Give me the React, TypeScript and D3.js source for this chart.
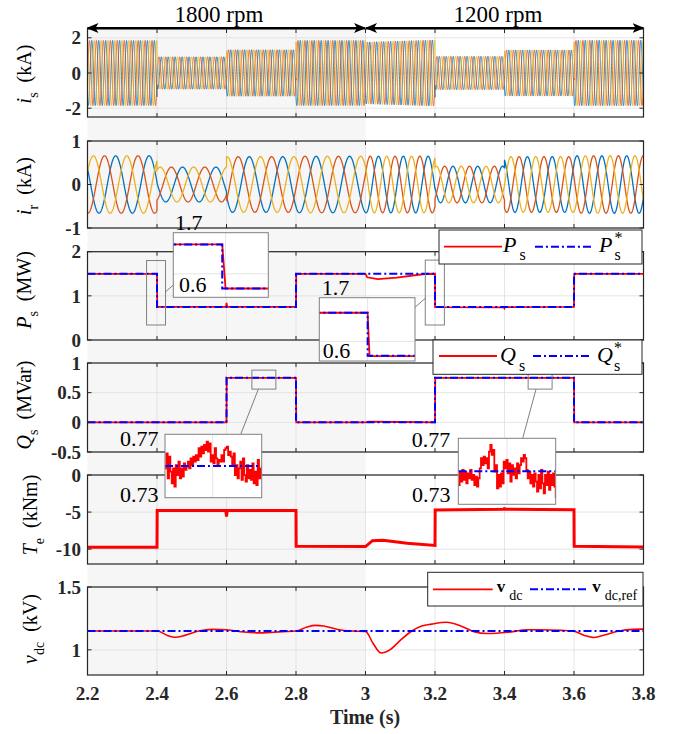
import React from "react";
import * as d3 from "d3";

const W = 681;
const H = 734;
const X0 = 87.5;
const X1 = 643.5;
const FONT = "'Liberation Serif', 'Times New Roman', serif";

const C_BLUE = "#0072BD";
const C_ORANGE = "#D95319";
const C_YELLOW = "#EDB120";
const C_RED = "#ff0000";
const C_REF = "#0000ff";
const DASHDOT = "8,3,2,3";

// ---------- data ----------
const timeTicks = [2.2, 2.4, 2.6, 2.8, 3, 3.2, 3.4, 3.6, 3.8];

// operating segments (shared by both current envelopes)
const segStart = [2.2, 2.4, 2.6, 2.8, 3.0, 3.2, 3.4, 3.6];
const segEnd = [2.4, 2.6, 2.8, 3.0, 3.2, 3.4, 3.6, 3.8];

// stator current amplitude (kA), start/end of each segment, and frequency (Hz)
const isAmpStart = [1.85, 0.92, 1.32, 1.85, 1.76, 0.95, 1.31, 1.86];
const isAmpEnd = [1.85, 0.92, 1.32, 1.85, 1.88, 0.95, 1.31, 1.86];
const isFreq = [50, 50, 50, 50, 50, 50, 50, 50];

// rotor current amplitude (kA) and slip frequency (Hz)
const irAmp = [0.66, 0.4, 0.64, 0.65, 0.65, 0.42, 0.64, 0.66];
const irFreq = [10.4, 10.4, 10.4, 10.4, 14, 14, 14, 14];

// stator active power (MW)
const psRefT = [2.2, 2.4, 2.8, 3.2, 3.6];
const psRefV = [1.5, 0.75, 1.5, 0.75, 1.5];
const psMeasT = [2.2, 2.4, 2.4007, 2.599, 2.6, 2.602, 2.8, 2.8007, 3.0, 3.005, 3.035, 3.09, 3.17, 3.2, 3.2004, 3.399, 3.4, 3.402, 3.6, 3.6007, 3.8];
const psMeasV = [1.5, 1.5, 0.75, 0.75, 0.84, 0.75, 0.75, 1.5, 1.5, 1.42, 1.38, 1.415, 1.495, 1.5, 0.745, 0.74, 0.72, 0.745, 0.75, 1.5, 1.5];

// stator reactive power (MVar)
const qsRefT = [2.2, 2.6, 2.8, 3.2, 3.6];
const qsRefV = [0, 0.75, 0, 0.75, 0];
const qsMeasT = [2.2, 2.6, 2.6007, 2.8, 2.8007, 3.0, 3.01, 3.1, 3.2, 3.2007, 3.6, 3.6007, 3.8];
const qsMeasV = [0, 0, 0.75, 0.75, 0, 0, 0.012, 0.006, 0, 0.75, 0.75, 0, 0];

// zoomed Qs around 0.75 MVar
const qsFineA = [0.7485, 0.758, 0.7422, 0.7559, 0.7464, 0.7391, 0.7485, 0.737, 0.7506, 0.7443, 0.7527, 0.7422, 0.7485, 0.7433, 0.7517, 0.7475, 0.7496, 0.7527, 0.7485, 0.7548, 0.7506, 0.7559, 0.7527, 0.7569, 0.7538, 0.7612, 0.7559, 0.7622, 0.758, 0.7633, 0.7601, 0.7654, 0.7591, 0.7643, 0.7527, 0.7569, 0.7517, 0.7612, 0.7548, 0.7506, 0.7538, 0.7527, 0.7569, 0.7527, 0.7601, 0.7612, 0.7622, 0.7569, 0.7591, 0.7559, 0.7506, 0.758, 0.7443, 0.7506, 0.7422, 0.7485, 0.7527, 0.7412, 0.7548, 0.7443, 0.7401, 0.7506, 0.7422, 0.7475, 0.7412, 0.7517, 0.7391, 0.7464, 0.738, 0.7538, 0.7422, 0.7485, 0.7422];
const qsFineB = [0.7417, 0.7498, 0.7437, 0.7508, 0.7448, 0.7498, 0.7427, 0.7488, 0.7458, 0.7508, 0.7448, 0.7478, 0.7417, 0.7468, 0.7407, 0.7458, 0.7518, 0.7579, 0.7538, 0.7589, 0.7548, 0.7579, 0.7518, 0.7619, 0.766, 0.7599, 0.7629, 0.7498, 0.7538, 0.7397, 0.7478, 0.7407, 0.7488, 0.7427, 0.7559, 0.7518, 0.7569, 0.7488, 0.7548, 0.7437, 0.7538, 0.7478, 0.7518, 0.7458, 0.7548, 0.7488, 0.7538, 0.7579, 0.7559, 0.7599, 0.7579, 0.7508, 0.7458, 0.7498, 0.7427, 0.7478, 0.7407, 0.7488, 0.7437, 0.7377, 0.7478, 0.7397, 0.7508, 0.7427, 0.7367, 0.7478, 0.7417, 0.7498, 0.7387, 0.7478, 0.7417, 0.7488, 0.7407, 0.7336];

// electromagnetic torque (kNm)
const teT = [2.2, 2.4, 2.4005, 2.598, 2.6, 2.602, 2.8, 2.8005, 3.0, 3.02, 3.05, 3.12, 3.2, 3.2005, 3.399, 3.4, 3.401, 3.6, 3.6005, 3.8];
const teV = [-9.75, -9.75, -4.8, -4.8, -5.6, -4.8, -4.8, -9.6, -9.65, -8.85, -8.8, -9.2, -9.5, -4.72, -4.62, -4.4, -4.62, -4.68, -9.6, -9.7];

// dc-link voltage (kV)
const vdcRef = 1.15;
const vdcT = [2.2, 2.4, 2.43, 2.452, 2.48, 2.52, 2.56, 2.6, 2.65, 2.7, 2.76, 2.8, 2.83, 2.855, 2.88, 2.92, 2.96, 3.0, 3.022, 3.045, 3.07, 3.1, 3.133, 3.162, 3.19, 3.234, 3.274, 3.312, 3.35, 3.41, 3.466, 3.504, 3.562, 3.6, 3.63, 3.658, 3.69, 3.73, 3.77, 3.8];
const vdcV = [1.15, 1.15, 1.115, 1.1, 1.115, 1.15, 1.163, 1.16, 1.142, 1.135, 1.145, 1.15, 1.18, 1.195, 1.19, 1.162, 1.15, 1.147, 1.05, 0.975, 1.0, 1.075, 1.15, 1.19, 1.205, 1.22, 1.19, 1.145, 1.13, 1.14, 1.16, 1.16, 1.155, 1.148, 1.115, 1.098, 1.12, 1.15, 1.163, 1.165];

// ---------- helpers ----------
type Pt = [number, number];

function threePhase(a0: number[], a1: number[], freq: number[], phase0: number, dt: number): Pt[][] {
  const out: Pt[][] = [[], [], []];
  let theta = phase0;
  for (let s = 0; s < segStart.length; s++) {
    const t0 = segStart[s], t1 = segEnd[s];
    const n = Math.round((t1 - t0) / dt);
    for (let i = 0; i <= n; i++) {
      const t = t0 + i * dt;
      const a = a0[s] + (a1[s] - a0[s]) * (i / n);
      const th = theta + 2 * Math.PI * freq[s] * (t - t0);
      for (let k = 0; k < 3; k++) out[k].push([t, a * Math.cos(th - (k * 2 * Math.PI) / 3)]);
    }
    theta += 2 * Math.PI * freq[s] * (t1 - t0);
  }
  return out;
}

const zip = (t: number[], v: number[]): Pt[] => t.map((d, i) => [d, v[i]]);
const steps = (t: number[], v: number[], tEnd: number): Pt[] => [...zip(t, v), [tEnd, v[v.length - 1]]];
const spread = (v: number[], d: number[]): Pt[] => v.map((y, i) => [d[0] + ((d[1] - d[0]) * i) / (v.length - 1), y]);

const phaseColors = [C_YELLOW, C_ORANGE, C_BLUE];

const panels = [
  { id: "is", top: 29, bottom: 117, domain: [-2.5, 2.5], ticks: [-2, 0, 2], lab: { v: "i", sub: "s", unit: "(kA)", x: 31, cy: 74 } },
  { id: "ir", top: 141, bottom: 228, domain: [-1, 1], ticks: [-1, 0, 1], lab: { v: "i", sub: "r", unit: "(kA)", x: 31, cy: 186 } },
  { id: "ps", top: 251.7, bottom: 340, domain: [0, 2], ticks: [0, 1, 2], lab: { v: "P", sub: "s", unit: "(MW)", x: 31, cy: 290 } },
  { id: "qs", top: 363, bottom: 452, domain: [-0.5, 1], ticks: [-0.5, 0, 0.5, 1], lab: { v: "Q", sub: "s", unit: "(MVar)", x: 31, cy: 405 } },
  { id: "te", top: 475, bottom: 564, domain: [-12, 0], ticks: [-10, -5, 0], lab: { v: "T", sub: "e", unit: "(kNm)", x: 37, cy: 515 } },
  { id: "vdc", top: 587, bottom: 675, domain: [0.8, 1.5], ticks: [1, 1.5], lab: { v: "v", sub: "dc", unit: "(kV)", x: 37, cy: 629 } },
];

export default function App() {
  const xs = d3.scaleLinear().domain([2.2, 3.8]).range([X0, X1]);
  const ys: Record<string, d3.ScaleLinear<number, number>> = {};
  panels.forEach((p) => (ys[p.id] = d3.scaleLinear().domain(p.domain).range([p.bottom, p.top])));
  const lineFor = (id: string, curve: d3.CurveFactory = d3.curveLinear) =>
    d3.line<Pt>().x((d) => xs(d[0])).y((d) => ys[id](d[1])).curve(curve);

  const isWaves = threePhase(isAmpStart, isAmpEnd, isFreq, 0.3, 0.0004);
  const irWaves = threePhase(irAmp, irAmp, irFreq, -1.11, 0.001);

  const xMid = xs(3.0);

  // inset definitions: pixel frame + data window
  const insets = [
    { id: "pa", x: 173.3, y: 232.7, w: 95, h: 64.6, dx: [2.3897, 2.4097], dy: [0.6, 1.7], gx: [2.4007], gy: [1.0], kind: "ps" },
    { id: "pb", x: 319.3, y: 297.7, w: 95.7, h: 63.3, dx: [3.1899, 3.2099], dy: [0.66, 1.76], gx: [3.2], gy: [1.0], kind: "ps" },
    { id: "qa", x: 165, y: 434.3, w: 96.7, h: 63.4, dx: [2.673, 2.742], dy: [0.73, 0.77], gx: [2.707], gy: [], kind: "qa" },
    { id: "qb", x: 458.3, y: 438.3, w: 97.4, h: 66, dx: [3.468, 3.537], dy: [0.73, 0.77], gx: [3.5025], gy: [], kind: "qb" },
  ];
  // zoom rectangles on the main axes, in data units
  const zoomBoxes = [
    { id: "ps", t: [2.37, 2.4245], v: [0.34, 1.8] },
    { id: "ps", t: [3.172, 3.227], v: [0.34, 1.81] },
    { id: "qs", t: [2.673, 2.742], v: [0.56, 0.88] },
    { id: "qs", t: [3.468, 3.537], v: [0.56, 0.88] },
  ];
  const connectors = [
    [165.7, 291.7, 173.3, 285],
    [415, 307.3, 425.3, 298.3],
    [258.3, 389.3, 240.7, 434.3],
    [536, 389.3, 522.7, 438.3],
  ];

  const gridColor = "#dedede";
  const axisColor = "#262626";

  const tickFont = { fontFamily: FONT, fontWeight: 700, fontSize: 19, fill: "#262626" } as const;

  return (
    <svg width={W} height={H} style={{ position: "absolute", left: 0, top: 0, background: "#fff" }} fontFamily={FONT}>
      <defs>
        {panels.map((p) => (
          <clipPath id={`clip-${p.id}`} key={p.id}>
            <rect x={X0} y={p.top} width={X1 - X0} height={p.bottom - p.top} />
          </clipPath>
        ))}
        {insets.map((s) => (
          <clipPath id={`clip-${s.id}`} key={s.id}>
            <rect x={s.x} y={s.y} width={s.w} height={s.h} />
          </clipPath>
        ))}
        <marker id="arrowhead" viewBox="0 0 12 10" refX="11" refY="5" markerWidth="12" markerHeight="10" markerUnits="userSpaceOnUse" orient="auto-start-reverse">
          <path d="M0,0 L12,5 L0,10 L3,5 Z" fill="#000" />
        </marker>
      </defs>

      {/* shaded 1800 rpm region */}
      <rect x={X0} y={panels[0].top} width={xMid - X0} height={panels[5].bottom - panels[0].top} fill="#f6f6f6" />

      {/* grids */}
      {panels.map((p) => (
        <g key={`grid-${p.id}`} stroke={gridColor} strokeWidth={0.8}>
          {timeTicks.slice(1, -1).map((t) => (
            <line key={t} x1={xs(t)} x2={xs(t)} y1={p.top} y2={p.bottom} />
          ))}
          {p.ticks.map((v) => (
            <line key={v} x1={X0} x2={X1} y1={ys[p.id](v)} y2={ys[p.id](v)} />
          ))}
        </g>
      ))}

      {/* data */}
      <g clipPath="url(#clip-is)" fill="none" strokeWidth={0.8}>
        {[2, 1, 0].map((k) => (
          <path key={k} d={lineFor("is")(isWaves[k]) || ""} stroke={phaseColors[k]} />
        ))}
      </g>
      <g clipPath="url(#clip-ir)" fill="none" strokeWidth={1.3}>
        {[2, 1, 0].map((k) => (
          <path key={k} d={lineFor("ir")(irWaves[k]) || ""} stroke={phaseColors[k]} />
        ))}
      </g>
      <g clipPath="url(#clip-ps)" fill="none">
        <path d={lineFor("ps")(zip(psMeasT, psMeasV)) || ""} stroke={C_RED} strokeWidth={1.8} />
        <path d={lineFor("ps", d3.curveStepAfter)(steps(psRefT, psRefV, 3.8)) || ""} stroke={C_REF} strokeWidth={2} strokeDasharray={DASHDOT} />
      </g>
      <g clipPath="url(#clip-qs)" fill="none">
        <path d={lineFor("qs")(zip(qsMeasT, qsMeasV)) || ""} stroke={C_RED} strokeWidth={1.8} />
        <path d={lineFor("qs", d3.curveStepAfter)(steps(qsRefT, qsRefV, 3.8)) || ""} stroke={C_REF} strokeWidth={2} strokeDasharray={DASHDOT} />
      </g>
      <g clipPath="url(#clip-te)" fill="none">
        <path d={lineFor("te")(zip(teT, teV)) || ""} stroke={C_RED} strokeWidth={3} />
      </g>
      <g clipPath="url(#clip-vdc)" fill="none">
        <path d={lineFor("vdc", d3.curveMonotoneX)(zip(vdcT, vdcV)) || ""} stroke={C_RED} strokeWidth={1.6} />
        <path d={lineFor("vdc")([[2.2, vdcRef], [3.8, vdcRef]]) || ""} stroke={C_REF} strokeWidth={2} strokeDasharray={DASHDOT} />
      </g>

      {/* frames, ticks, tick labels, y labels */}
      {panels.map((p) => {
        const y = ys[p.id];
        return (
          <g key={`frame-${p.id}`}>
            <rect x={X0} y={p.top} width={X1 - X0} height={p.bottom - p.top} fill="none" stroke={axisColor} strokeWidth={1.2} />
            <g stroke={axisColor} strokeWidth={1}>
              {timeTicks.map((t) => (
                <g key={t}>
                  <line x1={xs(t)} x2={xs(t)} y1={p.bottom} y2={p.bottom - 4} />
                  <line x1={xs(t)} x2={xs(t)} y1={p.top} y2={p.top + 4} />
                </g>
              ))}
              {p.ticks.map((v) => (
                <g key={v}>
                  <line x1={X0} x2={X0 + 4} y1={y(v)} y2={y(v)} />
                  <line x1={X1} x2={X1 - 4} y1={y(v)} y2={y(v)} />
                </g>
              ))}
            </g>
            {p.ticks.map((v) => (
              <text key={v} x={81} y={y(v)} dy="0.35em" textAnchor="end" {...tickFont}>
                {String(v)}
              </text>
            ))}
            <text transform={`translate(${p.lab.x},${p.lab.cy}) rotate(-90)`} textAnchor="middle" fontSize={20} fill="#000">
              <tspan fontStyle="italic">{p.lab.v}</tspan>
              <tspan fontSize={14} dy={7}>{p.lab.sub}</tspan>
              <tspan dy={-7}>{"\u00a0\u00a0" + p.lab.unit}</tspan>
            </text>
          </g>
        );
      })}

      {/* x tick labels and title */}
      {timeTicks.map((t) => (
        <text key={t} x={xs(t)} y={700} textAnchor="middle" {...tickFont}>
          {String(t)}
        </text>
      ))}
      <text x={365} y={724} textAnchor="middle" fontWeight={700} fontSize={20} fill="#262626">
        Time (s)
      </text>

      {/* zoom boxes and connectors */}
      {zoomBoxes.map((b, i) => {
        const y = ys[b.id];
        return (
          <rect key={i} x={xs(b.t[0])} y={y(b.v[1])} width={xs(b.t[1]) - xs(b.t[0])} height={y(b.v[0]) - y(b.v[1])} fill="none" stroke="#808080" strokeWidth={1} />
        );
      })}
      {connectors.map((c, i) => (
        <line key={i} x1={c[0]} y1={c[1]} x2={c[2]} y2={c[3]} stroke="#606060" strokeWidth={0.8} />
      ))}

      {/* insets */}
      {insets.map((s) => {
        const ix = d3.scaleLinear().domain(s.dx).range([s.x, s.x + s.w]);
        const iy = d3.scaleLinear().domain(s.dy).range([s.y + s.h, s.y]);
        const ln = (c: d3.CurveFactory = d3.curveLinear) => d3.line<Pt>().x((d) => ix(d[0])).y((d) => iy(d[1])).curve(c);
        return (
          <g key={s.id}>
            <rect x={s.x} y={s.y} width={s.w} height={s.h} fill="#fff" />
            <g stroke={gridColor} strokeWidth={0.8}>
              {s.gx.map((t) => (
                <line key={t} x1={ix(t)} x2={ix(t)} y1={s.y} y2={s.y + s.h} />
              ))}
              {s.gy.map((v) => (
                <line key={v} x1={s.x} x2={s.x + s.w} y1={iy(v)} y2={iy(v)} />
              ))}
            </g>
            <g clipPath={`url(#clip-${s.id})`} fill="none">
              {s.kind === "ps" ? (
                <>
                  <path d={ln()(zip(psMeasT, psMeasV)) || ""} stroke={C_RED} strokeWidth={1.8} />
                  <path d={ln(d3.curveStepAfter)(steps(psRefT, psRefV, 3.8)) || ""} stroke={C_REF} strokeWidth={2} strokeDasharray={DASHDOT} />
                </>
              ) : (
                <>
                  <path d={ln(d3.curveStepAfter)(spread(s.kind === "qa" ? qsFineA : qsFineB, s.dx)) || ""} stroke={C_RED} strokeWidth={1.8} />
                  <path d={ln()([[s.dx[0], 0.75], [s.dx[1], 0.75]]) || ""} stroke={C_REF} strokeWidth={2} strokeDasharray={DASHDOT} />
                </>
              )}
            </g>
            <rect x={s.x} y={s.y} width={s.w} height={s.h} fill="none" stroke="#808080" strokeWidth={1} />
          </g>
        );
      })}

      {/* inset range labels */}
      <g fontSize={22} fill="#000">
        <text x={175} y={230}>1.7</text>
        <text x={179} y={292}>0.6</text>
        <text x={321.7} y={295}>1.7</text>
        <text x={322.7} y={358}>0.6</text>
        <text x={120} y={445.7}>0.77</text>
        <text x={120} y={502.3}>0.73</text>
        <text x={411.7} y={446.7}>0.77</text>
        <text x={412} y={502.3}>0.73</text>
      </g>

      {/* legends */}
      <g>
        <rect x={439} y={230} width={203} height={34} fill="#fff" stroke={axisColor} strokeWidth={1} />
        <line x1={444} x2={502} y1={246.7} y2={246.7} stroke={C_RED} strokeWidth={1.8} />
        <text x={503} y={252} fontSize={22}>
          <tspan fontStyle="italic">P</tspan>
          <tspan fontSize={16} dx={3} dy={8}>s</tspan>
        </text>
        <line x1={535} x2={593} y1={246.7} y2={246.7} stroke={C_REF} strokeWidth={2} strokeDasharray={DASHDOT} />
        <text x={599} y={252} fontSize={22}>
          <tspan fontStyle="italic">P</tspan>
          <tspan fontSize={16} dx={2} dy={-9}>*</tspan>
          <tspan fontSize={16} dx={-8} dy={17}>s</tspan>
        </text>
      </g>
      <g>
        <rect x={433} y={340} width={209} height={34.3} fill="#fff" stroke={axisColor} strokeWidth={1} />
        <line x1={439} x2={497} y1={356} y2={356} stroke={C_RED} strokeWidth={1.8} />
        <text x={500} y={362} fontSize={22}>
          <tspan fontStyle="italic">Q</tspan>
          <tspan fontSize={16} dx={3} dy={9}>s</tspan>
        </text>
        <line x1={533} x2={589} y1={356} y2={356} stroke={C_REF} strokeWidth={2} strokeDasharray={DASHDOT} />
        <text x={597} y={362} fontSize={22}>
          <tspan fontStyle="italic">Q</tspan>
          <tspan fontSize={16} dx={1} dy={-9}>*</tspan>
          <tspan fontSize={16} dx={-8} dy={18}>s</tspan>
        </text>
      </g>
      <g>
        <rect x={427.7} y={572.3} width={215.3} height={33.7} fill="#fff" stroke={axisColor} strokeWidth={1} />
        <line x1={433} x2={492.7} y1={589.3} y2={589.3} stroke={C_RED} strokeWidth={1.8} />
        <text x={496.7} y={592} fontSize={17}>
          <tspan fontWeight={700}>v</tspan>
          <tspan fontSize={14} dx={4} dy={8}>dc</tspan>
        </text>
        <line x1={530} x2={586.7} y1={589.3} y2={589.3} stroke={C_REF} strokeWidth={2} strokeDasharray={DASHDOT} />
        <text x={592.3} y={592} fontSize={17}>
          <tspan fontWeight={700}>v</tspan>
          <tspan fontSize={14} dx={4} dy={8}>dc,ref</tspan>
        </text>
      </g>

      {/* speed arrows */}
      <line x1={X0} x2={xMid - 0.5} y1={28} y2={28} stroke="#000" strokeWidth={2} markerStart="url(#arrowhead)" markerEnd="url(#arrowhead)" />
      <line x1={xMid + 0.5} x2={X1} y1={28} y2={28} stroke="#000" strokeWidth={2} markerStart="url(#arrowhead)" markerEnd="url(#arrowhead)" />
      <text x={219} y={22} textAnchor="middle" fontSize={23}>1800 rpm</text>
      <text x={498} y={22} textAnchor="middle" fontSize={23}>1200 rpm</text>
    </svg>
  );
}
